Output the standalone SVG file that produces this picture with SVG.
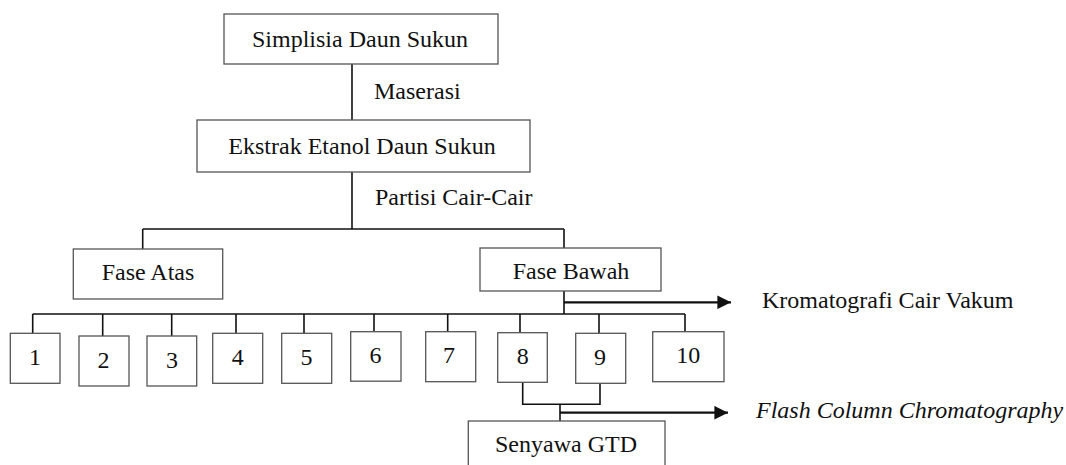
<svg xmlns="http://www.w3.org/2000/svg" width="1066" height="465" viewBox="0 0 1066 465">
<style>
.box{fill:#fff;stroke:#555;stroke-width:1.3}
.ln{fill:none;stroke:#111;stroke-width:1.6}
.ar{fill:none;stroke:#111;stroke-width:2.2}
text{font-family:"Liberation Serif","Times New Roman",serif;font-size:24px;fill:#111}
.c{text-anchor:middle}
</style>
<defs>
<marker id="ah" viewBox="0 0 10 10" refX="10" refY="5" markerWidth="6.2" markerHeight="6.2" markerUnits="strokeWidth" orient="auto">
<path d="M0,0 L10,5 L0,10 z" fill="#111"/>
</marker>
</defs>
<rect width="1066" height="465" fill="#fff"/>
<g id="connectors">
<path class="ln" d="M352,64 V120 M352,172 V229 M142.7,229 H564 M142.7,229 V249 M564,229 V248"/>
<path class="ln" d="M564,291 V314 M32.7,314 H685 M32.7,314 V333 M102.7,314 V336 M171.7,314 V336 M236,314 V333 M304,314 V333 M374,314 V332 M447.7,314 V332 M520,314 V333 M599,314 V333 M685,314 V332"/>
<path class="ln" d="M522.7,382 V404.3 H600 V383 M560,404.3 V421"/>
<path class="ar" d="M564,302.3 H731" marker-end="url(#ah)"/>
<path class="ar" d="M560,412.7 H728" marker-end="url(#ah)"/>
</g>
<g id="n-simplisia"><rect class="box" x="224" y="14" width="274" height="50"/><text class="c" x="360" y="47">Simplisia Daun Sukun</text></g>
<g id="l-maserasi"><text x="374" y="99">Maserasi</text></g>
<g id="n-ekstrak"><rect class="box" x="197" y="120" width="333" height="52"/><text class="c" x="362" y="154">Ekstrak Etanol Daun Sukun</text></g>
<g id="l-partisi"><text x="375" y="205">Partisi Cair-Cair</text></g>
<g id="n-atas"><rect class="box" x="73.3" y="249" width="149.4" height="50"/><text class="c" x="148" y="280">Fase Atas</text></g>
<g id="n-bawah"><rect class="box" x="480" y="248" width="181" height="43"/><text class="c" x="571" y="279">Fase Bawah</text></g>
<g id="l-kcv"><text x="762" y="308">Kromatografi Cair Vakum</text></g>
<g id="n-1"><rect class="box" x="10.3" y="333.3" width="49.7" height="50"/><text class="c" x="35" y="365">1</text></g>
<g id="n-2"><rect class="box" x="79" y="336" width="50" height="50"/><text class="c" x="103.5" y="368">2</text></g>
<g id="n-3"><rect class="box" x="147" y="336" width="49.7" height="50"/><text class="c" x="172" y="368">3</text></g>
<g id="n-4"><rect class="box" x="212.7" y="333.3" width="50" height="50"/><text class="c" x="237.7" y="365">4</text></g>
<g id="n-5"><rect class="box" x="281.7" y="333.3" width="50" height="50"/><text class="c" x="306.5" y="365">5</text></g>
<g id="n-6"><rect class="box" x="350.7" y="331.7" width="50.3" height="49.5"/><text class="c" x="375.5" y="363">6</text></g>
<g id="n-7"><rect class="box" x="425.7" y="331.7" width="50" height="50"/><text class="c" x="449" y="363">7</text></g>
<g id="n-8"><rect class="box" x="497.7" y="332.7" width="49.6" height="49.6"/><text class="c" x="522.7" y="364">8</text></g>
<g id="n-9"><rect class="box" x="575.7" y="333.3" width="50" height="50"/><text class="c" x="600" y="365">9</text></g>
<g id="n-10"><rect class="box" x="652.7" y="331.7" width="71.3" height="50"/><text class="c" x="688.3" y="363">10</text></g>
<g id="l-fcc"><text x="756" y="418" font-style="italic">Flash Column Chromatography</text></g>
<g id="n-gtd"><rect class="box" x="468.3" y="421" width="196.7" height="60"/><text class="c" x="566" y="452">Senyawa GTD</text></g>
</svg>
